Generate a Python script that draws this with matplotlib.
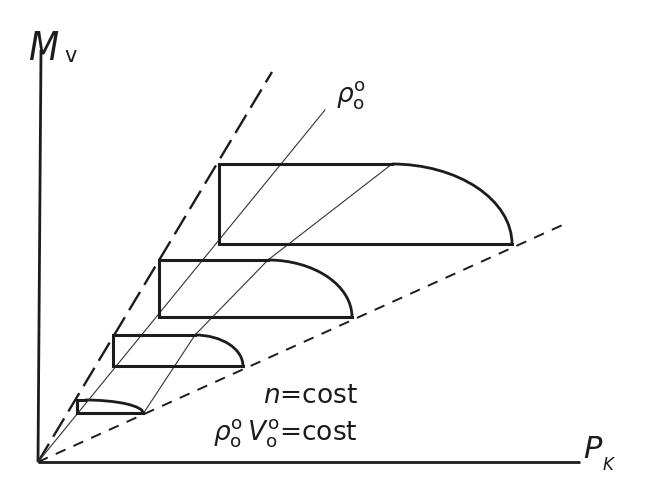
import matplotlib
matplotlib.use("Agg")
import matplotlib.pyplot as plt
from matplotlib.patches import Arc

# Operating envelopes of the blower at n = const, rho0*V0 = const
# (x: P_K, y: M_v), four envelopes from small to large
x_left = [3.9, 7.5, 12.1, 18.1]      # left edge of each envelope
x_arc = [4.7, 15.7, 23.0, 35.4]      # where the flat top turns into the curved limit
x_end = [10.5, 20.5, 31.4, 47.4]     # where the curve meets the lower limit line
y_top = [6.2, 12.7, 20.2, 29.8]
y_bot = [4.9, 9.6, 14.5, 21.8]

# Straight boundary rays from the origin (end points)
upper_ray = [23.4, 39.0]     # long-dash upper limit
rho_ray = [28.7, 35.2]       # rho0 = const
lower_ray = [52.9, 23.9]     # short-dash lower limit

# Line joining the break points of the envelopes
join_x = [10.5, 15.7, 23.0, 35.4]
join_y = [4.8, 12.7, 20.2, 29.8]

# Coordinate axes
axis_x = [0.0, 54.2]
axis_y = [0.0, 41.2]

ink = "#1c1c1c"

fig = plt.figure(figsize=(6.49, 4.79), dpi=100)
ax = fig.add_axes([0, 0, 1, 1])
ax.set_xlim(-3.8, 61.1)
ax.set_ylim(-1.7, 46.2)
ax.axis("off")

# axes
ax.plot([0, 0.3], [0, axis_y[1]], color=ink, lw=2.0, solid_capstyle="butt")
ax.plot([0, axis_x[1]], [0, 0], color=ink, lw=2.0, solid_capstyle="butt")

# rays
ax.plot([0, upper_ray[0]], [0, upper_ray[1]], color=ink, lw=1.7,
        dashes=(9, 3.5))
ax.plot([0, lower_ray[0]], [0, lower_ray[1]], color=ink, lw=1.4,
        dashes=(5.5, 4.5))
ax.plot([0, rho_ray[0]], [0, rho_ray[1]], color="#333333", lw=0.8)
ax.plot(join_x, join_y, color="#333333", lw=0.8)

# envelopes: rectangle part plus quarter-ellipse limit
for xl, xa, xe, yt, yb in zip(x_left, x_arc, x_end, y_top, y_bot):
    ax.plot([xa, xl, xl, xe], [yt, yt, yb, yb], color=ink, lw=2.2,
            solid_joinstyle="miter")
    ax.add_patch(Arc((xa, yb), 2 * (xe - xa), 2 * (yt - yb),
                     theta1=0, theta2=90, color=ink, lw=2.0))

# labels
ax.text(-1.0, 40.2, "M", fontsize=28, style="italic", color=ink,
        ha="left", va="baseline", fontstretch="condensed")
ax.text(2.6, 40.0, "v", fontsize=15, color=ink, ha="left", va="baseline")
ax.text(29.8, 36.0, r"$\rho_\mathrm{o}^\mathrm{o}$", fontsize=19, color=ink,
        ha="left", va="baseline")
ax.text(54.5, 0.4, "P", fontsize=22, style="italic", color=ink,
        ha="left", va="baseline")
ax.text(56.5, -0.8, "K", fontsize=12, style="italic", color=ink,
        ha="left", va="baseline")
ax.text(32.0, 5.9, r"$n$=cost", fontsize=19, color=ink,
        ha="right", va="baseline")
ax.text(32.0, 2.2, r"$\rho_\mathrm{o}^\mathrm{o}\,V_\mathrm{o}^\mathrm{o}$=cost",
        fontsize=19, color=ink, ha="right", va="baseline")

fig.savefig("out.png", dpi=100, facecolor="white")
